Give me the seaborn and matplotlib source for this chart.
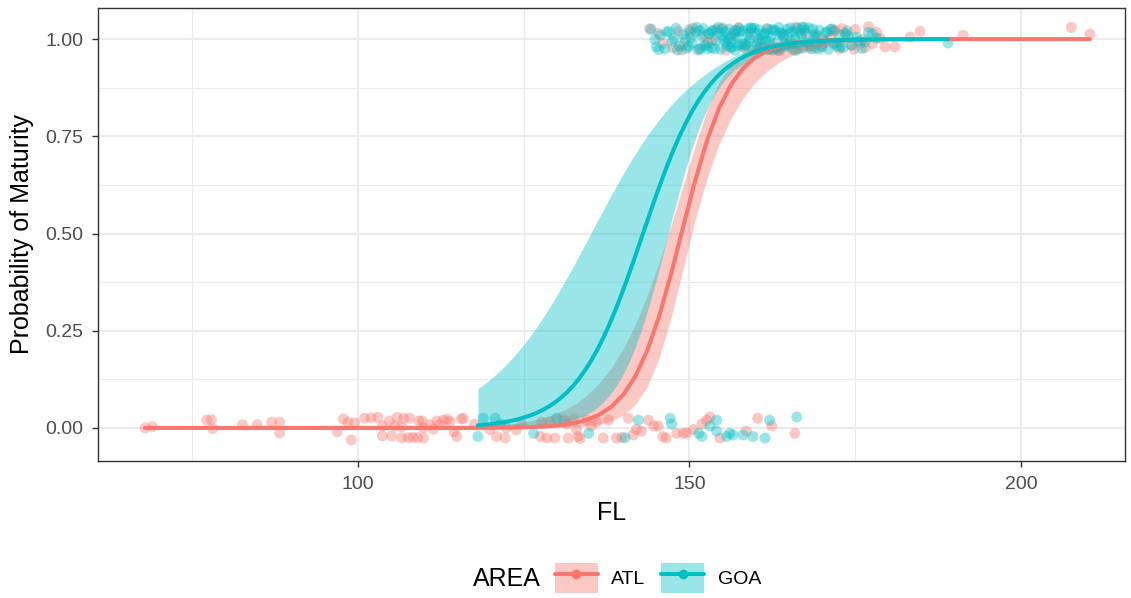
import numpy as np
import pandas as pd
import matplotlib
matplotlib.use("Agg")
import matplotlib.pyplot as plt
import seaborn as sns
from matplotlib.patches import Patch
from matplotlib.lines import Line2D
from matplotlib.legend_handler import HandlerTuple

# ---------------- data ----------------
areas = ["ATL", "GOA"]
colors = {"ATL": "#F8766D", "GOA": "#00BFC4"}

# immature (0) fish, FL and jittered y position
atl_imm_fl = [67.9, 69.0, 77.2, 77.9, 78.1, 82.6, 84.8, 87.0, 88.2, 88.2, 96.9, 97.8, 98.5, 99.0, 99.5,
              101.0, 102.0, 103.0, 103.7, 103.7, 104.7, 105.1, 105.6, 105.9, 106.6, 106.6, 106.9, 107.6,
              107.8, 108.3, 109.0, 109.2, 109.7, 109.9, 109.9, 110.9, 111.4, 111.9, 112.3, 112.9, 113.5,
              113.9, 114.5, 114.9, 115.6, 115.9, 117.6, 119.9, 120.9, 122.2, 122.4, 123.9, 124.7, 127.5,
              127.7, 128.5, 129.0, 129.7, 131.0, 131.5, 131.7, 132.5, 133.0, 133.2, 133.5, 134.5, 135.2,
              136.0, 137.0, 137.8, 139.0, 139.8, 140.8, 141.5, 142.0, 142.8, 143.8, 144.6, 145.3, 146.0,
              146.5, 148.1, 149.1, 149.6, 150.6, 151.9, 152.6, 153.1, 154.6, 158.6, 160.3, 162.4, 165.9]
atl_imm_y = [0.000, 0.003, 0.020, 0.021, -0.002, 0.008, 0.008, 0.015, 0.015, -0.013, -0.010, 0.023, 0.015,
             -0.031, 0.013, 0.025, 0.026, 0.027, 0.005, -0.020, 0.018, -0.021, 0.005, 0.027, 0.003, -0.025,
             0.025, -0.025, 0.025, -0.024, -0.025, 0.018, 0.018, 0.000, -0.026, 0.008, -0.003, 0.018, 0.008,
             0.020, 0.022, 0.016, -0.010, -0.022, 0.023, 0.025, 0.010, -0.004, -0.022, -0.026, 0.000, -0.005,
             0.010, -0.022, 0.015, -0.026, 0.015, -0.026, 0.022, 0.010, -0.026, 0.022, -0.004, -0.022, -0.027,
             0.020, 0.005, 0.015, -0.026, 0.020, -0.026, -0.025, 0.025, -0.018, -0.004, -0.008, 0.020, 0.005,
             0.005, -0.022, -0.026, -0.014, -0.014, -0.013, -0.004, 0.010, 0.020, 0.028, -0.026, -0.008,
             0.025, 0.005, -0.014]
goa_imm_fl = [118.1, 118.9, 120.7, 121.5, 126.5, 130.0, 134.8, 140.3, 142.3, 147.1, 147.3, 151.4, 151.9,
              153.1, 154.1, 154.1, 155.6, 156.1, 156.6, 158.1, 159.6, 161.4, 162.1, 166.2]
goa_imm_y = [-0.022, 0.025, 0.025, 0.010, -0.014, 0.025, -0.014, -0.025, 0.020, 0.025, 0.010, -0.014, -0.022,
             0.005, 0.020, -0.008, -0.022, -0.014, -0.018, -0.018, -0.022, -0.026, 0.020, 0.028]

# mature (1) fish
atl_mat_fl = [144.0, 145.3, 146.0, 147.5, 148.3, 149.0, 150.5, 151.5, 152.2, 152.8, 154.0, 155.5, 156.2,
              156.8, 158.0, 159.2, 160.5, 161.8, 163.0, 164.3, 165.5, 166.8, 168.0, 169.3, 170.5, 171.8,
              172.6, 173.5, 174.4, 175.0, 175.8, 176.5, 177.0, 178.2, 179.5, 181.0, 183.3, 184.8, 191.3,
              207.6, 210.4, 153.5, 157.4, 162.2, 167.5, 170.0, 173.0, 176.2, 177.6, 171.2,
              148.8, 150.1, 155.0, 158.6, 163.6, 166.1, 169.0, 172.0, 174.8, 178.8]
atl_mat_y = [1.027, 1.015, 0.989, 0.978, 1.020, 0.985, 1.028, 0.975, 1.010, 0.990, 1.025, 0.972, 1.005,
             1.022, 0.980, 1.018, 0.995, 1.026, 0.976, 1.012, 0.988, 1.024, 0.978, 1.008, 0.992, 1.021,
             0.975, 1.015, 0.985, 1.025, 0.990, 0.978, 1.032, 1.018, 0.980, 0.980, 1.005, 1.020, 1.010,
             1.030, 1.013, 0.996, 1.030, 0.973, 1.016, 0.982, 1.027, 1.000, 0.988, 1.006,
             0.972, 1.017, 1.029, 0.983, 0.971, 1.031, 0.977, 1.023, 0.974, 1.002]
goa_mat_fl = [144.2, 145.0, 145.6, 146.3, 146.9, 147.4, 148.0, 148.5, 149.1, 149.6, 150.0, 150.4, 150.9,
              151.3, 151.8, 152.1, 152.5, 152.9, 153.3, 153.6, 154.0, 154.3, 154.7, 155.0, 155.4, 155.7,
              156.0, 156.3, 156.6, 156.9, 157.2, 157.5, 157.8, 158.1, 158.4, 158.7, 159.0, 159.3, 159.6,
              159.9, 160.2, 160.5, 160.8, 161.1, 161.4, 161.7, 162.0, 162.3, 162.6, 162.9, 163.2, 163.5,
              163.8, 164.1, 164.4, 164.7, 165.0, 165.3, 165.6, 165.9, 166.2, 166.5, 166.8, 167.1, 167.4,
              167.7, 168.0, 168.4, 168.8, 169.2, 169.6, 170.0, 170.5, 171.0, 171.5, 172.0, 172.6, 173.2,
              173.8, 174.5, 175.2, 176.0, 177.0, 178.2, 189.0,
              145.4, 147.7, 149.9, 151.1, 152.7, 154.5, 155.2, 156.4, 157.1, 158.2, 159.4, 160.1, 160.9,
              161.6, 162.4, 163.1, 163.9, 164.6, 165.2, 166.0, 166.9, 167.9, 168.6, 169.5, 170.8, 172.3,
              173.6, 175.5,
              144.8, 146.6, 148.2, 150.2, 151.5, 152.3, 153.0, 153.8, 154.9, 155.6, 156.2, 156.8, 157.6,
              158.5, 159.1, 159.8, 160.6, 161.3, 162.1, 162.8, 163.4, 164.2, 164.9, 165.7, 166.4, 167.3,
              168.2, 169.0, 170.3, 171.3, 172.8, 174.0, 176.5, 177.6,
              149.4, 151.6, 153.4, 155.8, 157.3, 158.9, 160.4, 161.9, 163.7, 165.4, 167.0, 168.9, 171.8]
goa_mat_y = [1.025, 0.980, 1.010, 0.975, 1.020, 0.995, 1.028, 0.982, 1.012, 0.976, 1.024, 0.990, 1.018,
             0.972, 1.006, 1.027, 0.985, 1.015, 0.978, 1.022, 0.996, 1.030, 0.974, 1.008, 1.019, 0.983,
             1.026, 0.992, 1.014, 0.971, 1.003, 1.028, 0.987, 1.021, 0.977, 1.011, 0.994, 1.029, 0.973,
             1.016, 0.986, 1.024, 0.998, 0.979, 1.013, 1.027, 0.984, 1.007, 0.972, 1.020, 0.991, 1.030,
             0.976, 1.010, 0.988, 1.025, 0.981, 1.017, 0.973, 1.004, 1.028, 0.985, 1.014, 0.977, 1.022,
             0.993, 1.029, 0.975, 1.009, 0.987, 1.023, 0.980, 1.016, 0.974, 1.026, 0.990, 1.012, 0.978,
             1.021, 0.984, 1.005, 0.976, 1.018, 1.003, 0.990,
             0.973, 1.002, 0.981, 1.030, 0.975, 1.017, 0.998, 0.979, 1.022, 0.986, 1.027, 0.972, 1.011,
             0.996, 1.024, 0.977, 1.015, 0.983, 1.029, 0.971, 1.008, 0.989, 1.026, 0.974, 1.019, 0.981,
             1.013, 0.995,
             0.999, 1.018, 0.972, 1.004, 1.022, 0.983, 1.013, 0.975, 1.026, 0.992, 0.979, 1.009, 1.020,
             0.986, 1.001, 1.028, 0.978, 1.015, 0.994, 1.024, 0.971, 1.006, 0.988, 1.019, 0.975, 1.030,
             0.983, 1.012, 0.997, 1.025, 0.980, 1.007, 0.993, 1.014,
             1.000, 0.975, 1.021, 1.003, 0.984, 1.027, 0.999, 0.973, 1.016, 0.995, 1.031, 1.004, 0.987]

# logistic (glm, binomial) fit: L50, slope, and link-scale SE: se^2 = a + c*(FL - m)^2
l50 = {"ATL": 148.8, "GOA": 143.0}
slope = {"ATL": 0.27, "GOA": 0.20}
se_a = {"ATL": 0.045, "GOA": 0.026}
se_c = {"ATL": 0.0020, "GOA": 0.00137}
se_m = {"ATL": 150.5, "GOA": 156.4}

# ---------------- build frames ----------------
pts = pd.DataFrame({
    "FL": atl_imm_fl + atl_mat_fl + goa_imm_fl + goa_mat_fl,
    "y": atl_imm_y + atl_mat_y + goa_imm_y + goa_mat_y,
    "AREA": ["ATL"] * (len(atl_imm_fl) + len(atl_mat_fl)) + ["GOA"] * (len(goa_imm_fl) + len(goa_mat_fl)),
})

def plogis(z):
    return 1.0 / (1.0 + np.exp(-z))

curves = []
for a in areas:
    sub = pts[pts.AREA == a]
    xs = np.linspace(sub.FL.min(), sub.FL.max(), 80)
    eta = slope[a] * (xs - l50[a])
    se = np.sqrt(se_a[a] + se_c[a] * (xs - se_m[a]) ** 2)
    curves.append(pd.DataFrame({"FL": xs, "p": plogis(eta),
                                "lo": plogis(eta - 1.96 * se), "hi": plogis(eta + 1.96 * se),
                                "AREA": a}))
curves = pd.concat(curves, ignore_index=True)

# ---------------- draw ----------------
sns.set_theme(style="white")
plt.rcParams["font.family"] = ["Liberation Sans", "DejaVu Sans"]

fig = plt.figure(figsize=(11.31, 5.98), dpi=100)
ax = fig.add_axes([0.08665, 0.2291, 0.90805, 0.75753])
ax.set_facecolor("white")

ax.set_xlim(60.8, 215.7)
ax.set_ylim(-0.085, 1.08)
ax.set_xticks([100, 150, 200])
ax.set_xticks([75, 125, 175], minor=True)
ax.set_yticks([0, 0.25, 0.5, 0.75, 1.0])
ax.set_yticks([0.125, 0.375, 0.625, 0.875], minor=True)
ax.set_yticklabels(["0.00", "0.25", "0.50", "0.75", "1.00"])
ax.grid(which="major", color="#EBEBEB", linewidth=1.5, zorder=0)
ax.grid(which="minor", color="#EBEBEB", linewidth=0.8, zorder=0)
ax.set_axisbelow(True)

sns.scatterplot(data=pts, x="FL", y="y", hue="AREA", palette=colors, hue_order=areas,
                s=62, alpha=0.4, linewidth=0, ax=ax, legend=False, zorder=2)

for a in areas:
    c = curves[curves.AREA == a]
    ax.fill_between(c.FL, c.lo, c.hi, color=colors[a], alpha=0.4, linewidth=0, zorder=3)
    sns.lineplot(data=c, x="FL", y="p", color=colors[a], linewidth=2.9, ax=ax, zorder=4)

for s in ax.spines.values():
    s.set_color("#333333")
    s.set_linewidth(1.0)
ax.tick_params(which="major", length=4.5, width=1.0, color="#333333",
               labelsize=14, labelcolor="#4D4D4D", bottom=True, left=True, pad=6)
ax.tick_params(which="minor", length=0)

ax.set_xlabel("FL", fontsize=18, color="black", labelpad=6)
ax.set_ylabel("Probability of Maturity", fontsize=18, color="black", labelpad=8)

# legend at bottom
fig.text(473 / 1131, 1 - 579 / 598, "AREA", fontsize=18, color="black", va="center", ha="left")
handles = []
for a in areas:
    handles.append((Patch(facecolor=colors[a], alpha=0.4, edgecolor="none"),
                    Line2D([], [], color=colors[a], linewidth=2.9, marker="o", markersize=7,
                           markerfacecolor=colors[a], markeredgewidth=0, alpha=1.0)))
leg = fig.legend(handles, areas, handler_map={tuple: HandlerTuple(ndivide=1)},
                 loc="center left", bbox_to_anchor=(555 / 1131, 1 - 578 / 598), ncol=2,
                 frameon=False, fontsize=14, handlelength=2.2, handleheight=1.95,
                 handletextpad=0.7, columnspacing=0.8, borderpad=0, borderaxespad=0)
for t in leg.get_texts():
    t.set_color("black")

fig.savefig("out.png", dpi=100)
